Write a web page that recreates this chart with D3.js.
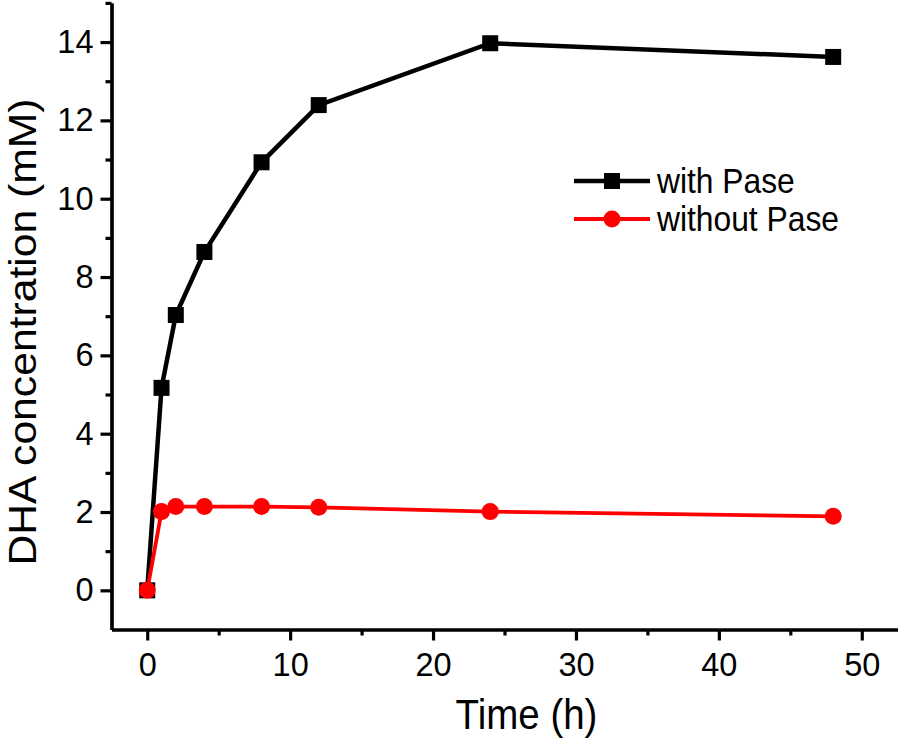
<!DOCTYPE html>
<html><head><meta charset="utf-8">
<script src="https://cdn.jsdelivr.net/npm/d3@7"></script>
<style>body{margin:0;background:#fff}svg{display:block}text{font-family:"Liberation Sans",Arial,sans-serif}</style>
</head><body><svg id="c" width="898" height="741"></svg>
<script>
const times = [0, 1, 2, 4, 8, 12, 24, 48];
const withPase = [0, 5.17, 7.03, 8.64, 10.93, 12.39, 13.97, 13.62];
const withoutPase = [0, 2.01, 2.14, 2.14, 2.14, 2.12, 2.01, 1.89];
const seriesNames = ["with Pase", "without Pase"];
const xMajor = [0, 10, 20, 30, 40, 50];
const xMinor = [5, 15, 25, 35, 45];
const yMajor = [0, 2, 4, 6, 8, 10, 12, 14];
const yMinor = [1, 3, 5, 7, 9, 11, 13, 15];

const svg = d3.select("#c");
const x = d3.scaleLinear().domain([-2.5, 52.5]).range([111.5, 897.5]);
const y = d3.scaleLinear().domain([-1, 15]).range([629.5, 2.9]);

const axG = svg.append("g");
axG.append("g").attr("transform", `translate(0,${y(-1)})`)
  .call(d3.axisBottom(x).tickValues(xMajor).tickSize(11).tickPadding(12).tickSizeOuter(0))
  .call(g => g.selectAll("text").attr("font-size", 32.5).attr("fill", "#000").attr("font-family", "Liberation Sans, Arial"));
axG.append("g").attr("transform", `translate(0,${y(-1)})`)
  .call(d3.axisBottom(x).tickValues(xMinor).tickSize(6).tickFormat("").tickSizeOuter(0));
axG.append("g").attr("transform", `translate(${x(-2.5)},0)`)
  .call(d3.axisLeft(y).tickValues(yMajor).tickSize(11).tickPadding(7).tickSizeOuter(0))
  .call(g => g.selectAll("text").attr("font-size", 32.5).attr("fill", "#000").attr("font-family", "Liberation Sans, Arial"));
axG.append("g").attr("transform", `translate(${x(-2.5)},0)`)
  .call(d3.axisLeft(y).tickValues(yMinor).tickSize(6).tickFormat("").tickSizeOuter(0));
axG.selectAll(".domain").attr("stroke", "#000").attr("stroke-width", 3.2);
axG.selectAll(".tick line").attr("stroke", "#000").attr("stroke-width", 3.2);

svg.append("text").attr("transform", `translate(${(x(0)+x(50))/2+22},729) scale(1,1.08)`)
  .attr("text-anchor", "middle").attr("font-size", 38.5).text("Time (h)");
svg.append("text").attr("transform", `translate(36,${332}) scale(1,1.08) rotate(-90)`)
  .attr("text-anchor", "middle").attr("font-size", 39.5).text("DHA concentration (mM)");

const line = d3.line().x(d => x(d[0])).y(d => y(d[1]));
const s1 = times.map((t, i) => [t, withPase[i]]);
const s2 = times.map((t, i) => [t, withoutPase[i]]);

svg.append("path").datum(s1).attr("d", line).attr("fill", "none").attr("stroke", "#000").attr("stroke-width", 4.5);
svg.selectAll(".sq").data(s1).join("rect").attr("x", d => x(d[0]) - 8).attr("y", d => y(d[1]) - 8)
  .attr("width", 16).attr("height", 16).attr("fill", "#000");
svg.append("path").datum(s2).attr("d", line).attr("fill", "none").attr("stroke", "#ff0000").attr("stroke-width", 3.8);
svg.selectAll(".ci").data(s2).join("circle").attr("cx", d => x(d[0])).attr("cy", d => y(d[1]))
  .attr("r", 8.5).attr("fill", "#ff0000");

const leg = svg.append("g");
const ly = [181, 219];
const colors = ["#000", "#ff0000"];
seriesNames.forEach((n, i) => {
  leg.append("line").attr("x1", 574).attr("x2", 650).attr("y1", ly[i]).attr("y2", ly[i])
    .attr("stroke", colors[i]).attr("stroke-width", i ? 3.8 : 4.5);
  if (i === 0) leg.append("rect").attr("x", 604).attr("y", ly[i] - 8).attr("width", 16).attr("height", 16).attr("fill", "#000");
  else leg.append("circle").attr("cx", 612).attr("cy", ly[i]).attr("r", 8.5).attr("fill", "#ff0000");
  leg.append("text").attr("transform", `translate(657,${ly[i] + 12}) scale(1,1.08)`).attr("font-size", 31.8).text(n);
});
</script></body></html>
